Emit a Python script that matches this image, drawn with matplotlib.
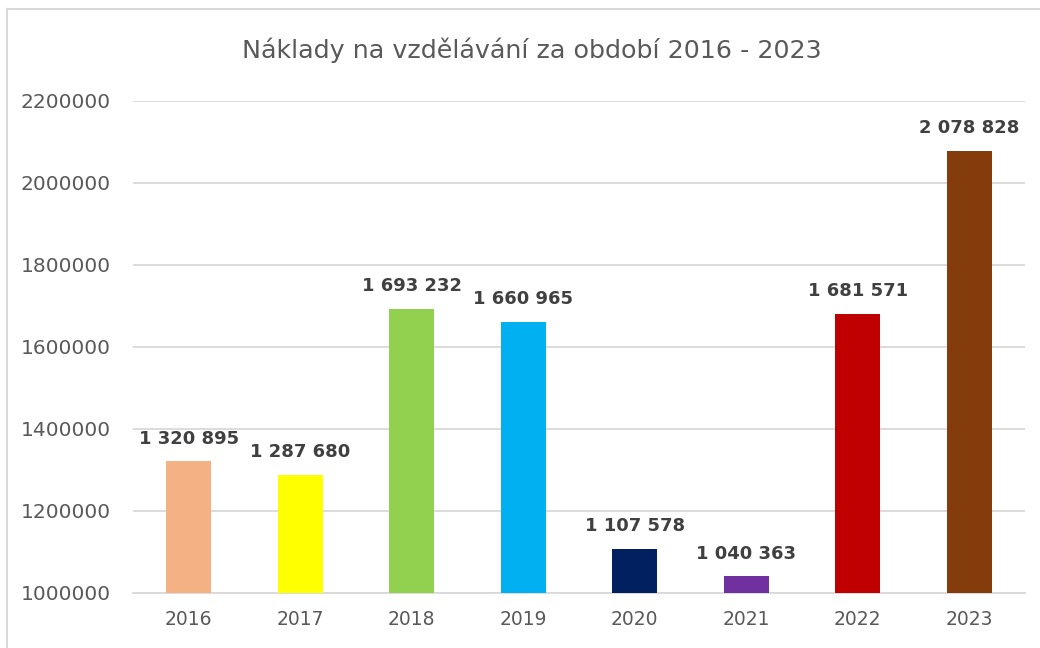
import matplotlib.pyplot as plt
from matplotlib.lines import Line2D

years = ["2016", "2017", "2018", "2019", "2020", "2021", "2022", "2023"]
costs = [1320895, 1287680, 1693232, 1660965, 1107578, 1040363, 1681571, 2078828]
colors = ["#F4B183", "#FFFF00", "#92D050", "#00B0F0",
          "#002060", "#7030A0", "#C00000", "#843C0C"]
y_ticks = [1000000, 1200000, 1400000, 1600000, 1800000, 2000000, 2200000]

W, H = 1040, 648
fig = plt.figure(figsize=(W / 100, H / 100), dpi=100)
ax = fig.add_axes([133 / W, 1 - 593 / H, (1025 - 133) / W, (593 - 101) / H])

x = range(len(years))
bars = ax.bar(x, costs, width=0.40, color=colors, zorder=3)

ax.set_ylim(y_ticks[0], y_ticks[-1])
ax.set_xlim(-0.5, len(years) - 0.5)
ax.set_yticks(y_ticks)
ax.set_yticklabels([str(t) for t in y_ticks])
ax.set_xticks(list(x))
ax.set_xticklabels(years)
ax.grid(axis="y", color="#d9d9d9", linewidth=1.3, zorder=0)
for s in ["top", "right", "left"]:
    ax.spines[s].set_visible(False)
ax.spines["bottom"].set_color("#d9d9d9")
ax.spines["bottom"].set_linewidth(1.3)
ax.tick_params(axis="both", length=0, colors="#595959")
ax.tick_params(axis="y", pad=16, labelsize=14.5)
ax.tick_params(axis="x", pad=12, labelsize=13.5)

labels = [f"{v:,}".replace(",", " ") for v in costs]
ax.bar_label(bars, labels=labels, padding=10, fontsize=13,
             fontweight="bold", color="#404040")

fig.text(0.511, 1 - 50 / H, "Náklady na vzdělávání za období 2016 - 2023",
         ha="center", va="center", fontsize=18.3, color="#595959")

# chart frame (only left and top edges fall inside the picture)
fig.add_artist(Line2D([7 / W, 7 / W], [0, 1 - 9 / H], color="#d9d9d9",
                      linewidth=1.5, transform=fig.transFigure))
fig.add_artist(Line2D([7 / W, 1], [1 - 9 / H, 1 - 9 / H], color="#d9d9d9",
                      linewidth=1.5, transform=fig.transFigure))

fig.savefig("out.png", dpi=100)
